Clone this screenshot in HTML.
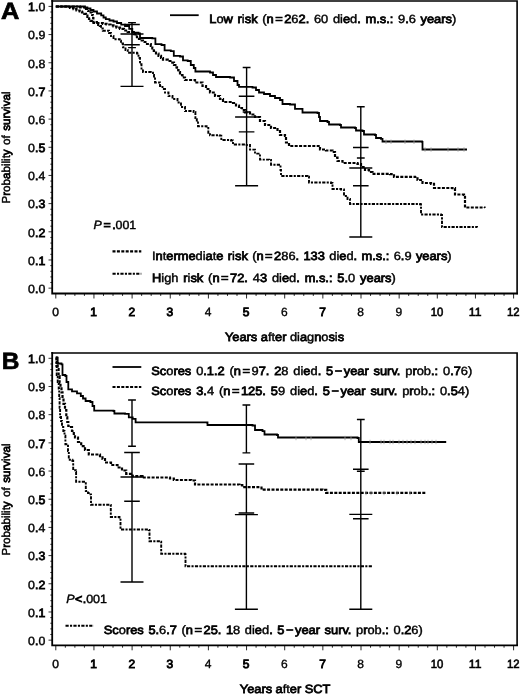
<!DOCTYPE html>
<html><head><meta charset="utf-8"><title>Survival curves</title>
<style>html,body{margin:0;padding:0;background:#fff}svg{display:block;-webkit-font-smoothing:antialiased;will-change:transform;text-rendering:geometricPrecision}text{font-family:"Liberation Sans",sans-serif}</style>
</head><body>
<svg width="520" height="695" viewBox="0 0 520 695" shape-rendering="geometricPrecision">
<rect width="520" height="695" fill="#fff"/>
<g stroke="#000" fill="none">
<path d="M52.2 1.0 H517.1 V293.5" stroke-width="1.6" stroke-linecap="square"/>
<path d="M52.2 1.0 V293.5 H517.1" stroke-width="1.8" stroke-linecap="square"/>
<path d="M48.50 288.15H52.2M50.30 282.51H52.2M50.30 276.88H52.2M50.30 271.25H52.2M50.30 265.61H52.2M48.50 259.97H52.2M50.30 254.34H52.2M50.30 248.70H52.2M50.30 243.07H52.2M50.30 237.43H52.2M48.50 231.80H52.2M50.30 226.16H52.2M50.30 220.53H52.2M50.30 214.89H52.2M50.30 209.26H52.2M48.50 203.62H52.2M50.30 197.99H52.2M50.30 192.35H52.2M50.30 186.72H52.2M50.30 181.08H52.2M48.50 175.45H52.2M50.30 169.81H52.2M50.30 164.18H52.2M50.30 158.54H52.2M50.30 152.91H52.2M48.50 147.27H52.2M50.30 141.64H52.2M50.30 136.00H52.2M50.30 130.37H52.2M50.30 124.73H52.2M48.50 119.10H52.2M50.30 113.46H52.2M50.30 107.83H52.2M50.30 102.19H52.2M50.30 96.56H52.2M48.50 90.92H52.2M50.30 85.29H52.2M50.30 79.65H52.2M50.30 74.02H52.2M50.30 68.38H52.2M48.50 62.75H52.2M50.30 57.11H52.2M50.30 51.48H52.2M50.30 45.84H52.2M50.30 40.21H52.2M48.50 34.57H52.2M50.30 28.94H52.2M50.30 23.30H52.2M50.30 17.67H52.2M50.30 12.03H52.2M48.50 6.40H52.2" stroke-width="0.8"/>
<path d="M55.80 293.5V298.5M65.34 293.5V295.9M74.88 293.5V295.9M84.41 293.5V295.9M93.95 293.5V298.5M103.49 293.5V295.9M113.02 293.5V295.9M122.56 293.5V295.9M132.10 293.5V298.5M141.64 293.5V295.9M151.18 293.5V295.9M160.71 293.5V295.9M170.25 293.5V298.5M179.79 293.5V295.9M189.32 293.5V295.9M198.86 293.5V295.9M208.40 293.5V298.5M217.94 293.5V295.9M227.47 293.5V295.9M237.01 293.5V295.9M246.55 293.5V298.5M256.09 293.5V295.9M265.62 293.5V295.9M275.16 293.5V295.9M284.70 293.5V298.5M294.24 293.5V295.9M303.77 293.5V295.9M313.31 293.5V295.9M322.85 293.5V298.5M332.39 293.5V295.9M341.93 293.5V295.9M351.46 293.5V295.9M361.00 293.5V298.5M370.54 293.5V295.9M380.07 293.5V295.9M389.61 293.5V295.9M399.15 293.5V298.5M408.69 293.5V295.9M418.23 293.5V295.9M427.76 293.5V295.9M437.30 293.5V298.5M446.84 293.5V295.9M456.38 293.5V295.9M465.91 293.5V295.9M475.45 293.5V298.5M484.99 293.5V295.9M494.52 293.5V295.9M504.06 293.5V295.9M513.60 293.5V298.5" stroke-width="0.85"/>
</g>
<g font-family="Liberation Sans, sans-serif" font-size="12" fill="#000" stroke="#000" stroke-width="0.42">
<text x="45.3" y="292.90" text-anchor="end" textLength="17.2" lengthAdjust="spacingAndGlyphs">0<tspan stroke-width="0.78">.</tspan>0</text>
<text x="45.3" y="264.72" text-anchor="end" textLength="17.2" lengthAdjust="spacingAndGlyphs">0<tspan stroke-width="0.78">.1</tspan></text>
<text x="45.3" y="236.55" text-anchor="end" textLength="17.2" lengthAdjust="spacingAndGlyphs">0<tspan stroke-width="0.78">.2</tspan></text>
<text x="45.3" y="208.38" text-anchor="end" textLength="17.2" lengthAdjust="spacingAndGlyphs">0<tspan stroke-width="0.78">.3</tspan></text>
<text x="45.3" y="180.20" text-anchor="end" textLength="17.2" lengthAdjust="spacingAndGlyphs">0<tspan stroke-width="0.78">.</tspan>4</text>
<text x="45.3" y="152.02" text-anchor="end" textLength="17.2" lengthAdjust="spacingAndGlyphs">0<tspan stroke-width="0.78">.5</tspan></text>
<text x="45.3" y="123.85" text-anchor="end" textLength="17.2" lengthAdjust="spacingAndGlyphs">0<tspan stroke-width="0.78">.</tspan>6</text>
<text x="45.3" y="95.67" text-anchor="end" textLength="17.2" lengthAdjust="spacingAndGlyphs">0<tspan stroke-width="0.78">.7</tspan></text>
<text x="45.3" y="67.50" text-anchor="end" textLength="17.2" lengthAdjust="spacingAndGlyphs">0<tspan stroke-width="0.78">.</tspan>8</text>
<text x="45.3" y="39.32" text-anchor="end" textLength="17.2" lengthAdjust="spacingAndGlyphs">0<tspan stroke-width="0.78">.</tspan>9</text>
<text x="45.3" y="11.15" text-anchor="end" textLength="17.2" lengthAdjust="spacingAndGlyphs"><tspan stroke-width="0.78">1.</tspan>0</text>
<text x="55.5" y="316.0" text-anchor="middle" stroke-width="0.45">0</text>
<text x="93.6" y="316.0" text-anchor="middle" stroke-width="0.9">1</text>
<text x="131.8" y="316.0" text-anchor="middle" stroke-width="0.85">2</text>
<text x="169.9" y="316.0" text-anchor="middle" stroke-width="0.85">3</text>
<text x="208.1" y="316.0" text-anchor="middle" stroke-width="0.35">4</text>
<text x="246.2" y="316.0" text-anchor="middle" stroke-width="0.9">5</text>
<text x="284.4" y="316.0" text-anchor="middle" stroke-width="0.35">6</text>
<text x="322.6" y="316.0" text-anchor="middle" stroke-width="0.9">7</text>
<text x="360.7" y="316.0" text-anchor="middle" stroke-width="0.35">8</text>
<text x="398.8" y="316.0" text-anchor="middle" stroke-width="0.35">9</text>
<text x="437.0" y="316.0" text-anchor="middle" textLength="12.6" lengthAdjust="spacingAndGlyphs" stroke-width="0.6">10</text>
<text x="475.1" y="316.0" text-anchor="middle" textLength="12.6" lengthAdjust="spacingAndGlyphs" stroke-width="0.6">11</text>
<text x="513.3" y="316.0" text-anchor="middle" textLength="12.6" lengthAdjust="spacingAndGlyphs" stroke-width="0.6">12</text>
<text transform="translate(225 341.4) scale(1.066 1)"><tspan stroke-width="0.78">Years</tspan> <tspan stroke-width="0.78">a</tspan>ft<tspan stroke-width="0.78">er</tspan> di<tspan stroke-width="0.78">a</tspan>g<tspan stroke-width="0.78">n</tspan>o<tspan stroke-width="0.78">s</tspan>i<tspan stroke-width="0.78">s</tspan></text>
<text transform="translate(10.2 203.5) rotate(-90)" font-size="11.6" style="word-spacing:1.2px">P<tspan stroke-width="0.78">r</tspan>ob<tspan stroke-width="0.78">a</tspan>bilit<tspan stroke-width="0.78">y</tspan> of <tspan stroke-width="0.78">surv</tspan>i<tspan stroke-width="0.78">va</tspan>l</text>
</g>
<g stroke="#000" fill="none">
<path d="M52.2 352.95 H517.1 V645.3" stroke-width="1.6" stroke-linecap="square"/>
<path d="M52.2 352.95 V645.3 H517.1" stroke-width="1.8" stroke-linecap="square"/>
<path d="M48.50 640.15H52.2M50.30 634.51H52.2M50.30 628.88H52.2M50.30 623.24H52.2M50.30 617.60H52.2M48.50 611.97H52.2M50.30 606.33H52.2M50.30 600.69H52.2M50.30 595.05H52.2M50.30 589.42H52.2M48.50 583.78H52.2M50.30 578.14H52.2M50.30 572.51H52.2M50.30 566.87H52.2M50.30 561.23H52.2M48.50 555.60H52.2M50.30 549.96H52.2M50.30 544.32H52.2M50.30 538.68H52.2M50.30 533.05H52.2M48.50 527.41H52.2M50.30 521.77H52.2M50.30 516.14H52.2M50.30 510.50H52.2M50.30 504.86H52.2M48.50 499.23H52.2M50.30 493.59H52.2M50.30 487.95H52.2M50.30 482.31H52.2M50.30 476.68H52.2M48.50 471.04H52.2M50.30 465.40H52.2M50.30 459.77H52.2M50.30 454.13H52.2M50.30 448.49H52.2M48.50 442.86H52.2M50.30 437.22H52.2M50.30 431.58H52.2M50.30 425.94H52.2M50.30 420.31H52.2M48.50 414.67H52.2M50.30 409.03H52.2M50.30 403.40H52.2M50.30 397.76H52.2M50.30 392.12H52.2M48.50 386.49H52.2M50.30 380.85H52.2M50.30 375.21H52.2M50.30 369.57H52.2M50.30 363.94H52.2M48.50 358.30H52.2" stroke-width="0.8"/>
<path d="M55.80 645.3V650.3M65.34 645.3V647.6999999999999M74.88 645.3V647.6999999999999M84.41 645.3V647.6999999999999M93.95 645.3V650.3M103.49 645.3V647.6999999999999M113.02 645.3V647.6999999999999M122.56 645.3V647.6999999999999M132.10 645.3V650.3M141.64 645.3V647.6999999999999M151.18 645.3V647.6999999999999M160.71 645.3V647.6999999999999M170.25 645.3V650.3M179.79 645.3V647.6999999999999M189.32 645.3V647.6999999999999M198.86 645.3V647.6999999999999M208.40 645.3V650.3M217.94 645.3V647.6999999999999M227.47 645.3V647.6999999999999M237.01 645.3V647.6999999999999M246.55 645.3V650.3M256.09 645.3V647.6999999999999M265.62 645.3V647.6999999999999M275.16 645.3V647.6999999999999M284.70 645.3V650.3M294.24 645.3V647.6999999999999M303.77 645.3V647.6999999999999M313.31 645.3V647.6999999999999M322.85 645.3V650.3M332.39 645.3V647.6999999999999M341.93 645.3V647.6999999999999M351.46 645.3V647.6999999999999M361.00 645.3V650.3M370.54 645.3V647.6999999999999M380.07 645.3V647.6999999999999M389.61 645.3V647.6999999999999M399.15 645.3V650.3M408.69 645.3V647.6999999999999M418.23 645.3V647.6999999999999M427.76 645.3V647.6999999999999M437.30 645.3V650.3M446.84 645.3V647.6999999999999M456.38 645.3V647.6999999999999M465.91 645.3V647.6999999999999M475.45 645.3V650.3M484.99 645.3V647.6999999999999M494.52 645.3V647.6999999999999M504.06 645.3V647.6999999999999M513.60 645.3V650.3" stroke-width="0.85"/>
</g>
<g font-family="Liberation Sans, sans-serif" font-size="12" fill="#000" stroke="#000" stroke-width="0.42">
<text x="45.3" y="644.90" text-anchor="end" textLength="17.2" lengthAdjust="spacingAndGlyphs">0<tspan stroke-width="0.78">.</tspan>0</text>
<text x="45.3" y="616.72" text-anchor="end" textLength="17.2" lengthAdjust="spacingAndGlyphs">0<tspan stroke-width="0.78">.1</tspan></text>
<text x="45.3" y="588.53" text-anchor="end" textLength="17.2" lengthAdjust="spacingAndGlyphs">0<tspan stroke-width="0.78">.2</tspan></text>
<text x="45.3" y="560.35" text-anchor="end" textLength="17.2" lengthAdjust="spacingAndGlyphs">0<tspan stroke-width="0.78">.3</tspan></text>
<text x="45.3" y="532.16" text-anchor="end" textLength="17.2" lengthAdjust="spacingAndGlyphs">0<tspan stroke-width="0.78">.</tspan>4</text>
<text x="45.3" y="503.98" text-anchor="end" textLength="17.2" lengthAdjust="spacingAndGlyphs">0<tspan stroke-width="0.78">.5</tspan></text>
<text x="45.3" y="475.79" text-anchor="end" textLength="17.2" lengthAdjust="spacingAndGlyphs">0<tspan stroke-width="0.78">.</tspan>6</text>
<text x="45.3" y="447.61" text-anchor="end" textLength="17.2" lengthAdjust="spacingAndGlyphs">0<tspan stroke-width="0.78">.7</tspan></text>
<text x="45.3" y="419.42" text-anchor="end" textLength="17.2" lengthAdjust="spacingAndGlyphs">0<tspan stroke-width="0.78">.</tspan>8</text>
<text x="45.3" y="391.24" text-anchor="end" textLength="17.2" lengthAdjust="spacingAndGlyphs">0<tspan stroke-width="0.78">.</tspan>9</text>
<text x="45.3" y="363.05" text-anchor="end" textLength="17.2" lengthAdjust="spacingAndGlyphs"><tspan stroke-width="0.78">1.</tspan>0</text>
<text x="55.5" y="667.8" text-anchor="middle" stroke-width="0.45">0</text>
<text x="93.6" y="667.8" text-anchor="middle" stroke-width="0.9">1</text>
<text x="131.8" y="667.8" text-anchor="middle" stroke-width="0.85">2</text>
<text x="169.9" y="667.8" text-anchor="middle" stroke-width="0.85">3</text>
<text x="208.1" y="667.8" text-anchor="middle" stroke-width="0.35">4</text>
<text x="246.2" y="667.8" text-anchor="middle" stroke-width="0.9">5</text>
<text x="284.4" y="667.8" text-anchor="middle" stroke-width="0.35">6</text>
<text x="322.6" y="667.8" text-anchor="middle" stroke-width="0.9">7</text>
<text x="360.7" y="667.8" text-anchor="middle" stroke-width="0.35">8</text>
<text x="398.8" y="667.8" text-anchor="middle" stroke-width="0.35">9</text>
<text x="437.0" y="667.8" text-anchor="middle" textLength="12.6" lengthAdjust="spacingAndGlyphs" stroke-width="0.6">10</text>
<text x="475.1" y="667.8" text-anchor="middle" textLength="12.6" lengthAdjust="spacingAndGlyphs" stroke-width="0.6">11</text>
<text x="513.3" y="667.8" text-anchor="middle" textLength="12.6" lengthAdjust="spacingAndGlyphs" stroke-width="0.6">12</text>
<text transform="translate(239.8 693.1999999999999) scale(1.066 1)"><tspan stroke-width="0.78">Years</tspan> <tspan stroke-width="0.78">a</tspan>ft<tspan stroke-width="0.78">er</tspan> <tspan stroke-width="0.78">SCT</tspan></text>
<text transform="translate(10.2 555.5) rotate(-90)" font-size="11.6" style="word-spacing:1.2px">P<tspan stroke-width="0.78">r</tspan>ob<tspan stroke-width="0.78">a</tspan>bilit<tspan stroke-width="0.78">y</tspan> of <tspan stroke-width="0.78">surv</tspan>i<tspan stroke-width="0.78">va</tspan>l</text>
</g>
<g font-family="Liberation Sans, sans-serif" font-size="23.5" font-weight="bold" fill="#000" stroke="#000" stroke-width="0.7">
<text transform="translate(0.9 18.6) scale(1.08 1)">A</text>
<text transform="translate(1.8 369.4) scale(1.04 1)">B</text>
</g>
<g fill="none" stroke="#000" stroke-width="1.8" stroke-linejoin="miter">
<path d="M55.8 6.5 H82.8 V6.5 H85.0 V7.5 H87.4 V8.5 H90.5 V10.0 H93.5 V11.5 H97.0 V13.5 H101.2 V15.4 H103.5 V17.5 H105.8 V19.2 H109.5 V20.5 H113.5 V21.5 H117.0 V23.0 H121.2 V24.6 H125.0 V26.0 H129.2 V28.8 H132.3 V32.7 H138.5 V33.5 H140.0 V38.0 H152.3 V38.4 H155.4 V44.2 H161.5 V45.0 H164.6 V50.4 H170.8 V51.2 H173.8 V55.8 H180.0 V56.5 H183.0 V60.4 H187.7 V61.0 H190.8 V65.0 H193.8 V68.0 H195.4 V71.5 H210.0 V72.5 H213.0 V75.0 H216.0 V77.0 H230.0 V77.5 H234.0 V81.0 H237.5 V85.0 H239.0 V86.8 H252.5 V87.5 H256.0 V90.0 H259.0 V92.5 H264.0 V94.0 H270.0 V96.0 H275.0 V98.0 H280.0 V100.0 H282.5 V104.0 H290.0 V104.5 H295.0 V108.8 H302.5 V112.5 H317.5 V113.0 H319.0 V117.0 H320.0 V121.0 H327.5 V122.0 H329.0 V124.5 H340.0 V125.0 H341.0 V127.5 H355.0 V128.0 H356.0 V130.5 H362.5 V131.0 H364.0 V134.5 H375.0 V135.0 H376.0 V138.0 H381.0 V138.8 H382.5 V141.5 H422.0 V141.8 H422.5 V149.5 H467.0 V149.5"/>
<path d="M55.8 6.5 H65.0 V6.5 H67.4 V7.0 H70.0 V8.0 H73.5 V9.2 H76.5 V10.5 H79.7 V11.5 H82.0 V12.5 H84.3 V13.8 H86.0 V15.5 H87.4 V17.0 H89.0 V19.0 H90.5 V20.8 H93.5 V23.0 H102.8 V23.8 H106.5 V24.5 H110.5 V25.4 H113.5 V26.5 H116.6 V27.7 H120.0 V28.8 H124.0 V30.5 H127.7 V32.0 H133.8 V34.2 H135.5 V36.5 H137.0 V38.8 H140.0 V40.5 H143.0 V42.0 H147.0 V44.0 H150.8 V45.8 H152.3 V48.5 H153.8 V51.0 H156.0 V53.5 H158.5 V55.8 H161.0 V58.0 H163.0 V59.6 H167.7 V61.0 H172.3 V62.7 H174.0 V65.0 H175.4 V67.3 H177.0 V70.0 H178.5 V72.0 H180.0 V75.0 H182.5 V77.5 H185.0 V80.0 H195.0 V82.5 H202.5 V86.0 H206.0 V89.0 H210.0 V92.5 H215.0 V96.0 H220.0 V99.0 H223.0 V102.0 H233.0 V103.0 H236.0 V105.5 H239.0 V108.0 H242.0 V110.0 H245.0 V112.5 H250.0 V114.5 H255.0 V117.0 H260.0 V121.0 H265.0 V125.0 H271.0 V128.0 H277.5 V131.0 H280.0 V135.0 H285.0 V136.0 H286.0 V142.5 H289.0 V146.0 H317.5 V146.0 H320.0 V149.5 H326.0 V150.5 H332.5 V152.0 H335.0 V157.5 H337.5 V161.0 H342.5 V163.0 H357.5 V164.0 H361.0 V167.0 H365.0 V170.0 H369.0 V172.0 H372.5 V173.8 H390.0 V174.2 H394.0 V176.8 H415.0 V177.0 H417.5 V180.0 H422.5 V183.0 H431.0 V183.8 H434.0 V188.0 H452.5 V188.2 H455.0 V194.5 H464.0 V195.0 H465.0 V207.5 H484.5 V208.0" stroke-dasharray="3 1.4" stroke-width="2.2"/>
<path d="M55.8 6.5 H76.0 V6.5 H80.0 V7.5 H84.0 V9.0 H88.0 V11.0 H90.5 V12.5 H92.0 V15.0 H93.0 V18.0 H93.5 V22.0 H97.0 V25.0 H99.7 V26.0 H101.0 V28.5 H102.8 V30.8 H109.0 V33.0 H111.0 V36.0 H113.5 V39.2 H119.7 V40.8 H121.0 V43.5 H123.0 V47.3 H125.5 V50.0 H127.7 V52.7 H137.0 V53.5 H138.5 V58.0 H140.0 V64.2 H141.5 V70.4 H143.0 V72.0 H150.8 V72.7 H153.0 V75.0 H154.0 V78.5 H155.0 V82.5 H160.0 V86.0 H162.5 V89.0 H165.0 V92.5 H168.5 V96.0 H172.5 V99.0 H177.5 V102.5 H181.0 V107.0 H185.0 V111.0 H193.6 V112.0 H195.4 V118.0 H196.8 V122.5 H198.0 V126.3 H206.6 V126.6 H208.3 V132.7 H210.0 V135.3 H219.6 V135.6 H221.3 V140.0 H231.0 V140.5 H233.0 V144.5 H245.0 V145.0 H250.0 V149.6 H255.0 V153.6 H260.0 V159.6 H269.0 V160.0 H271.0 V164.7 H280.0 V165.0 H280.5 V170.0 H281.0 V176.0 H307.5 V176.8 H309.0 V182.5 H331.0 V183.0 H332.5 V189.0 H341.0 V189.5 H344.0 V196.0 H347.5 V199.0 H350.0 V204.0 H420.0 V204.2 H421.0 V214.5 H441.0 V215.0 H442.0 V227.0 H477.0 V227.5" stroke-dasharray="3.2 1.3 2.1 1.3" stroke-width="1.9"/>
<path d="M55.8 357.7 H57.7 V363.5 H61.5 V364.4 H62.5 V375.0 H65.4 V376.0 H66.5 V382.0 H68.3 V389.4 H72.0 V391.3 H77.0 V393.3 H80.8 V396.0 H83.0 V398.5 H85.6 V401.0 H90.4 V402.0 H92.5 V406.0 H94.2 V410.6 H113.5 V411.0 H114.4 V413.5 H125.0 V413.8 H128.8 V417.3 H132.7 V418.8 H135.6 V422.3 H207.0 V422.5 H207.5 V425.0 H252.5 V425.5 H255.0 V430.0 H262.5 V431.2 H264.5 V434.5 H277.0 V435.0 H278.0 V437.5 H357.5 V438.0 H358.8 V442.0 H446.2 V442.0"/>
<path d="M55.8 357.7 H56.8 V363.0 H57.7 V369.0 H58.6 V376.0 H59.6 V382.7 H60.5 V387.0 H61.5 V392.3 H62.5 V398.0 H63.5 V403.8 H65.0 V410.0 H66.3 V417.3 H67.3 V422.0 H68.3 V426.0 H71.0 V427.0 H72.0 V431.0 H73.8 V434.0 H75.0 V437.5 H78.0 V442.0 H81.2 V446.2 H85.0 V450.0 H88.8 V454.5 H100.0 V456.2 H102.5 V459.0 H105.0 V462.5 H111.0 V465.0 H117.5 V467.5 H122.0 V470.5 H126.2 V473.8 H132.5 V476.2 H142.5 V477.5 H170.0 V478.5 H173.8 V480.0 H191.2 V480.5 H195.0 V484.5 H239.4 V485.2 H242.3 V487.1 H259.6 V487.5 H261.5 V489.6 H322.5 V489.8 H326.2 V492.8 H425.5 V493.0" stroke-dasharray="3 1.4" stroke-width="2.2"/>
<path d="M55.8 357.7 H56.3 V366.0 H56.7 V375.0 H57.7 V382.0 H58.7 V388.5 H59.2 V398.0 H59.6 V407.7 H60.1 V417.0 H61.0 V421.0 H62.0 V427.0 H63.3 V431.0 H64.5 V435.6 H65.4 V444.2 H68.0 V451.0 H68.8 V459.8 H72.3 V460.7 H73.2 V470.2 H75.8 V472.0 H76.1 V481.8 H85.3 V482.3 H85.8 V491.0 H88.0 V493.0 H90.5 V494.4 H91.0 V504.8 H110.0 V505.0 H110.8 V517.0 H119.5 V517.5 H120.5 V529.5 H148.8 V530.0 H149.5 V541.2 H160.5 V541.8 H161.2 V553.8 H185.0 V554.2 H185.5 V566.2 H372.5 V566.5" stroke-dasharray="3.2 1.3 2.1 1.3" stroke-width="1.9"/>
<path d="M170 15.2H198.7"/>
<path d="M112.5 251.3H141.3" stroke-dasharray="3 1.4" stroke-width="2.2"/>
<path d="M112.5 273.8H141.3" stroke-dasharray="3.2 1.3 2.1 1.3" stroke-width="1.9"/>
<path d="M112.5 367H141.3"/>
<path d="M112.5 387H141.3" stroke-dasharray="3 1.4" stroke-width="2.2"/>
<path d="M65.5 625.8H93.8" stroke-dasharray="3.2 1.3 2.1 1.3" stroke-width="1.9"/>
</g>
<path d="M386 139.55V143.95M391 139.55V143.95M405 139.55V143.95M414 139.55V143.95M425 147.3V151.7M431 147.3V151.7M448 147.3V151.7M458 147.3V151.7M464 147.3V151.7M296 435.8V440.2M306 435.8V440.2M311 435.8V440.2M345 435.8V440.2M351 435.8V440.2M370 439.8V444.2M381 439.8V444.2M384 439.8V444.2M390 439.8V444.2M393 439.8V444.2M399 439.8V444.2M403 439.8V444.2M407 439.8V444.2M411 439.8V444.2M415 439.8V444.2M421 439.8V444.2M425 439.8V444.2M428 439.8V444.2M432 439.8V444.2M436 439.8V444.2M366 490.8V495.2M371 490.8V495.2M384 490.8V495.2M397 490.8V495.2M410 490.8V495.2" fill="none" stroke="#9a9a9a" stroke-width="0.8"/>
<path d="M132.0 22.6V47.6M128.1 22.6H135.9M128.1 47.6H135.9M132.0 24.5V44.7M124.2 24.5H139.8M124.2 44.7H139.8M132.0 34V86.4M120.5 34H143.5M120.5 86.4H143.5M246.6 67.5V112M242.7 67.5H250.5M242.7 112H250.5M246.6 96.2V131.9M238.79999999999998 96.2H254.4M238.79999999999998 131.9H254.4M246.6 117V185.8M235.1 117H258.1M235.1 185.8H258.1M360.8 106.8V158M356.90000000000003 106.8H364.7M356.90000000000003 158H364.7M360.8 147.5V185.8M353.0 147.5H368.6M353.0 185.8H368.6M360.8 168V237M349.3 168H372.3M349.3 237H372.3M132.0 400V446.2M128.1 400H135.9M128.1 446.2H135.9M132.0 452.5V501.2M124.2 452.5H139.8M124.2 501.2H139.8M132.0 477V582M120.5 477H143.5M120.5 582H143.5M246.4 405V452.9M242.5 405H250.3M242.5 452.9H250.3M246.4 464V513M238.6 464H254.20000000000002M238.6 513H254.20000000000002M246.4 514.6V609.2M234.9 514.6H257.9M234.9 609.2H257.9M360.8 419.5V471.2M356.90000000000003 419.5H364.7M356.90000000000003 471.2H364.7M360.8 469.2V518.8M353.0 469.2H368.6M353.0 518.8H368.6M360.8 514.4V609.2M349.3 514.4H372.3M349.3 609.2H372.3" fill="none" stroke="#000" stroke-width="1.4"/>
<g font-family="Liberation Sans, sans-serif" font-size="12" fill="#000" stroke="#000" stroke-width="0.42">
<text transform="translate(209.3 23.2) scale(1.07 1)" style="word-spacing:1.05px"><tspan stroke-width="0.78">L</tspan>o<tspan stroke-width="0.78">w</tspan> <tspan stroke-width="0.78">r</tspan>i<tspan stroke-width="0.78">sk</tspan> (<tspan stroke-width="0.78">n</tspan><tspan dx="1.4" stroke-width="0.78">=</tspan><tspan dx="1.4" stroke-width="0.78">2</tspan>6<tspan stroke-width="0.78">2.</tspan> 60 di<tspan stroke-width="0.78">e</tspan>d<tspan stroke-width="0.78">.</tspan> <tspan stroke-width="0.78">m.s.:</tspan> 9<tspan stroke-width="0.78">.</tspan>6 <tspan stroke-width="0.78">years</tspan>)</text>
<text transform="translate(152 259.6) scale(1.07 1)" style="word-spacing:0.73px">I<tspan stroke-width="0.78">n</tspan>t<tspan stroke-width="0.78">erme</tspan>di<tspan stroke-width="0.78">a</tspan>t<tspan stroke-width="0.78">e</tspan> <tspan stroke-width="0.78">r</tspan>i<tspan stroke-width="0.78">sk</tspan> (<tspan stroke-width="0.78">n</tspan><tspan dx="1.4" stroke-width="0.78">=</tspan><tspan dx="1.4" stroke-width="0.78">2</tspan>86<tspan stroke-width="0.78">.</tspan> <tspan stroke-width="0.78">133</tspan> di<tspan stroke-width="0.78">e</tspan>d<tspan stroke-width="0.78">.</tspan> <tspan stroke-width="0.78">m.s.:</tspan> 6<tspan stroke-width="0.78">.</tspan>9 <tspan stroke-width="0.78">years</tspan>)</text>
<text transform="translate(152 281.9) scale(1.07 1)" style="word-spacing:1.20px"><tspan stroke-width="0.78">H</tspan>igh <tspan stroke-width="0.78">r</tspan>i<tspan stroke-width="0.78">sk</tspan> (<tspan stroke-width="0.78">n</tspan><tspan dx="1.4" stroke-width="0.78">=</tspan><tspan dx="1.4" stroke-width="0.78">72.</tspan> 4<tspan stroke-width="0.78">3</tspan> di<tspan stroke-width="0.78">e</tspan>d<tspan stroke-width="0.78">.</tspan> <tspan stroke-width="0.78">m.s.:</tspan> <tspan stroke-width="0.78">5.</tspan>0 <tspan stroke-width="0.78">years</tspan>)</text>
<text transform="translate(151.3 375.1) scale(1.07 1)" style="word-spacing:1.19px"><tspan stroke-width="0.78">Sc</tspan>o<tspan stroke-width="0.78">res</tspan> 0<tspan stroke-width="0.78">.1.2</tspan> (<tspan stroke-width="0.78">n</tspan><tspan dx="1.4" stroke-width="0.78">=</tspan><tspan dx="1.4">9</tspan><tspan stroke-width="0.78">7.</tspan> <tspan stroke-width="0.78">2</tspan>8 di<tspan stroke-width="0.78">e</tspan>d<tspan stroke-width="0.78">.</tspan> <tspan stroke-width="0.78">5</tspan><tspan dx="1.4" stroke-width="0.78">−</tspan><tspan dx="1.4" stroke-width="0.78">year</tspan> <tspan stroke-width="0.78">surv.</tspan> p<tspan stroke-width="0.78">r</tspan>ob<tspan stroke-width="0.78">.:</tspan> 0<tspan stroke-width="0.78">.7</tspan>6)</text>
<text transform="translate(151.3 394.6) scale(1.07 1)" style="word-spacing:1.25px"><tspan stroke-width="0.78">Sc</tspan>o<tspan stroke-width="0.78">res</tspan> <tspan stroke-width="0.78">3.</tspan>4 (<tspan stroke-width="0.78">n</tspan><tspan dx="1.4" stroke-width="0.78">=</tspan><tspan dx="1.4" stroke-width="0.78">125.</tspan> <tspan stroke-width="0.78">5</tspan>9 di<tspan stroke-width="0.78">e</tspan>d<tspan stroke-width="0.78">.</tspan> <tspan stroke-width="0.78">5</tspan><tspan dx="1.4" stroke-width="0.78">−</tspan><tspan dx="1.4" stroke-width="0.78">year</tspan> <tspan stroke-width="0.78">surv.</tspan> p<tspan stroke-width="0.78">r</tspan>ob<tspan stroke-width="0.78">.:</tspan> 0<tspan stroke-width="0.78">.5</tspan>4)</text>
<text transform="translate(103.8 633.8) scale(1.07 1)" style="word-spacing:0.96px"><tspan stroke-width="0.78">Sc</tspan>o<tspan stroke-width="0.78">res</tspan> <tspan stroke-width="0.78">5.</tspan>6<tspan stroke-width="0.78">.7</tspan> (<tspan stroke-width="0.78">n</tspan><tspan dx="1.4" stroke-width="0.78">=</tspan><tspan dx="1.4" stroke-width="0.78">25.</tspan> <tspan stroke-width="0.78">1</tspan>8 di<tspan stroke-width="0.78">e</tspan>d<tspan stroke-width="0.78">.</tspan> <tspan stroke-width="0.78">5</tspan><tspan dx="1.4" stroke-width="0.78">−</tspan><tspan dx="1.4" stroke-width="0.78">year</tspan> <tspan stroke-width="0.78">surv.</tspan> p<tspan stroke-width="0.78">r</tspan>ob<tspan stroke-width="0.78">.:</tspan> 0<tspan stroke-width="0.78">.2</tspan>6)</text>
<text transform="translate(93.6 228.8) scale(1.03 1)"><tspan font-style="italic">P</tspan><tspan dx="1.5" stroke-width="0.8">=</tspan><tspan dx="1.5" stroke-width="0.8">.</tspan>001</text>
<text transform="translate(66.2 603.3) scale(1.04 1)"><tspan font-style="italic">P</tspan><tspan dx="0.4" stroke-width="0.9">&lt;</tspan><tspan dx="0.4" stroke-width="0.8">.</tspan>001</text>
</g>
</svg>
</body></html>
